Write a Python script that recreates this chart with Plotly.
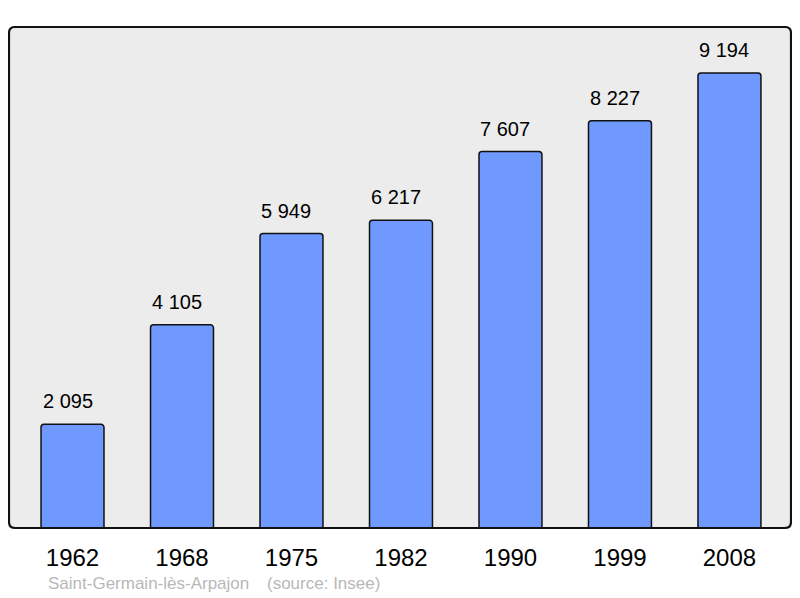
import plotly.graph_objects as go

years = ["1962", "1968", "1975", "1982", "1990", "1999", "2008"]
population = [2095, 4105, 5949, 6217, 7607, 8227, 9194]
value_labels = ["2 095", "4 105", "5 949", "6 217", "7 607", "8 227", "9 194"]
town = "Saint-Germain-lès-Arpajon"
source = "(source: Insee)"

FONT = "Liberation Sans, Arial"

fig = go.Figure()
fig.add_trace(go.Bar(
    x=years, y=population, width=0.575,
    marker=dict(color="#7099ff", line=dict(color="#111111", width=1.5), cornerradius=3),
    hoverinfo="skip",
))

for i, (v, lab) in enumerate(zip(population, value_labels)):
    fig.add_annotation(x=i, y=v, xref="x", yref="y", text=lab, showarrow=False,
                       yanchor="bottom", yshift=10, xshift=-5,
                       font=dict(family=FONT, size=20, color="#000000"))

fig.add_annotation(x=0.0477, y=-0.11, xref="paper", yref="paper", text=town, showarrow=False,
                   xanchor="left", yanchor="middle", font=dict(family=FONT, size=17, color="#b8b8b8"))
fig.add_annotation(x=0.3277, y=-0.11, xref="paper", yref="paper", text=source, showarrow=False,
                   xanchor="left", yanchor="middle", font=dict(family=FONT, size=17, color="#b8b8b8"))

# rounded border around plot area
W, H = 782, 501
r = 6
rx, ry = r / W, r / H
path = (f"M {rx},0 L {1-rx},0 Q 1,0 1,{ry} L 1,{1-ry} Q 1,1 {1-rx},1 "
        f"L {rx},1 Q 0,1 0,{1-ry} L 0,{ry} Q 0,0 {rx},0 Z")
fig.add_shape(type="path", path=path, xref="paper", yref="paper",
              line=dict(color="#111111", width=2.2), layer="above")

# page body has an 8px margin: offset figure so plot lands at the right place
fig.update_layout(
    width=792, height=590,
    margin=dict(l=1, r=9, t=19, b=70),
    paper_bgcolor="#ffffff", plot_bgcolor="#ececec",
    showlegend=False,
    xaxis=dict(type="category", range=[-0.58, 6.562], showgrid=False, zeroline=False, showline=False,
               ticks="", ticklabelstandoff=13,
               tickfont=dict(family=FONT, size=24, color="#000000")),
    yaxis=dict(range=[0, 10123], showgrid=False, zeroline=False, showline=False,
               showticklabels=False, ticks=""),
)

fig.write_html("out.html")
